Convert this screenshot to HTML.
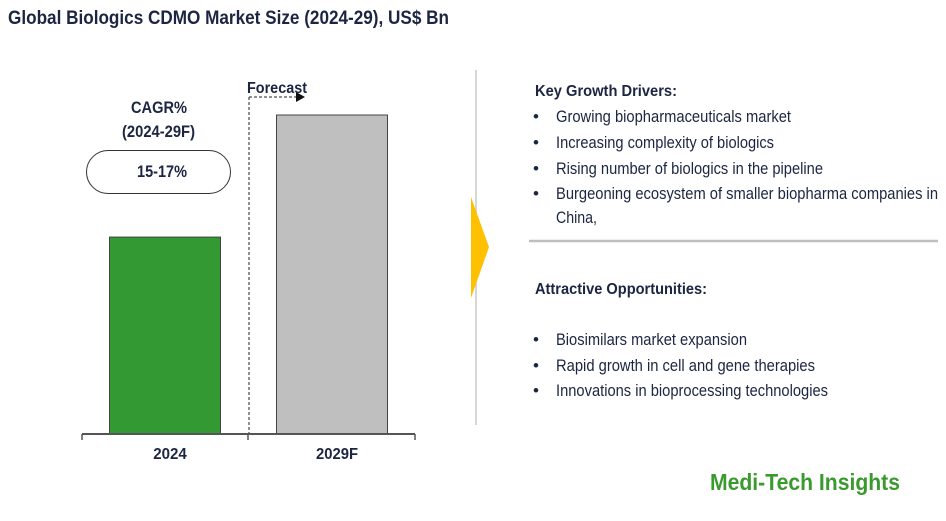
<!DOCTYPE html>
<html><head><meta charset="utf-8"><style>
body{margin:0;background:#fff}
svg{display:block}
text{font-family:"Liberation Sans Narrow","Liberation Sans",sans-serif;fill:#1c2541}
.b{font-weight:bold}
</style></head><body>
<svg id="chart" width="946" height="521" viewBox="0 0 946 521">
<text class="b" x="8" y="24" font-size="19" textLength="441" lengthAdjust="spacingAndGlyphs">Global Biologics CDMO Market Size (2024-29), US$ Bn</text>
<g id="bars"></g>
<line x1="82" y1="434" x2="415" y2="434" stroke="#555" stroke-width="2"/>
<line x1="82" y1="434" x2="82" y2="440" stroke="#555" stroke-width="1.5"/>
<line x1="248" y1="434" x2="248" y2="440" stroke="#555" stroke-width="1.5"/>
<line x1="415" y1="434" x2="415" y2="440" stroke="#555" stroke-width="1.5"/>
<line x1="249" y1="97" x2="249" y2="433" stroke="#222" stroke-width="1" stroke-dasharray="3,2"/>
<line x1="249" y1="97" x2="296" y2="97" stroke="#222" stroke-width="1" stroke-dasharray="3,2"/>
<polygon points="296,92 305,97 296,102" fill="#111"/>
<text class="b" x="247" y="93" font-size="16" textLength="60" lengthAdjust="spacingAndGlyphs">Forecast</text>
<text class="b" x="131" y="113" font-size="17" textLength="56" lengthAdjust="spacingAndGlyphs">CAGR%</text>
<text class="b" x="122" y="137" font-size="17" textLength="73" lengthAdjust="spacingAndGlyphs">(2024-29F)</text>
<rect x="86.5" y="150.5" width="144" height="43" rx="21.5" fill="#fff" stroke="#333" stroke-width="1"/>
<text class="b" x="137" y="177" font-size="17" textLength="50" lengthAdjust="spacingAndGlyphs">15-17%</text>
<line x1="476" y1="70" x2="476" y2="425" stroke="#c8c8c8" stroke-width="1.5"/>
<polygon points="471,197 489,247 471,298" fill="#ffc000"/>
<text class="b" x="535" y="96" font-size="16" textLength="142" lengthAdjust="spacingAndGlyphs">Key Growth Drivers:</text>
<g font-size="17">
<text x="533" y="122">•</text><text x="556" y="122" textLength="235" lengthAdjust="spacingAndGlyphs">Growing biopharmaceuticals market</text>
<text x="533" y="148">•</text><text x="556" y="148" textLength="218" lengthAdjust="spacingAndGlyphs">Increasing complexity of biologics</text>
<text x="533" y="174">•</text><text x="556" y="174" textLength="267" lengthAdjust="spacingAndGlyphs">Rising number of biologics in the pipeline</text>
<text x="533" y="199">•</text><text x="556" y="199" textLength="382" lengthAdjust="spacingAndGlyphs">Burgeoning ecosystem of smaller biopharma companies in</text>
<text x="556" y="223" textLength="41" lengthAdjust="spacingAndGlyphs">China,</text>
</g>
<line x1="529" y1="241" x2="938" y2="241" stroke="#bfbfbf" stroke-width="2.5"/>
<text class="b" x="535" y="294" font-size="16" textLength="172" lengthAdjust="spacingAndGlyphs">Attractive Opportunities:</text>
<g font-size="17">
<text x="533" y="345">•</text><text x="556" y="345" textLength="191" lengthAdjust="spacingAndGlyphs">Biosimilars market expansion</text>
<text x="533" y="371">•</text><text x="556" y="371" textLength="259" lengthAdjust="spacingAndGlyphs">Rapid growth in cell and gene therapies</text>
<text x="533" y="396">•</text><text x="556" y="396" textLength="272" lengthAdjust="spacingAndGlyphs">Innovations in bioprocessing technologies</text>
</g>
<text class="b" x="710" y="490" font-size="23" textLength="190" lengthAdjust="spacingAndGlyphs" style="fill:#3a9a2e;font-family:'Liberation Sans',sans-serif">Medi-Tech Insights</text>
</svg>
<script>
const categories = ["2024", "2029F"];
const values = [50, 81];
const colors = ["#339933", "#bfbfbf"];
const NS = "http://www.w3.org/2000/svg";
const baseY = 434, maxV = 81, topPx = 115;
function yScale(v){ return baseY - (v / maxV) * (baseY - topPx); }
function xCenter(i){ return 165 + i * 167; }
const g = document.getElementById("bars");
categories.forEach((c, i) => {
  const r = document.createElementNS(NS, "rect");
  const y = yScale(values[i]);
  r.setAttribute("x", xCenter(i) - 55.5);
  r.setAttribute("y", y);
  r.setAttribute("width", 111);
  r.setAttribute("height", baseY - y);
  r.setAttribute("fill", colors[i]);
  r.setAttribute("stroke", "#444");
  r.setAttribute("stroke-width", "1");
  
  
  g.appendChild(r);
  const t = document.createElementNS(NS, "text");
  t.setAttribute("x", xCenter(i) + 5);
  t.setAttribute("y", 459);
  t.setAttribute("text-anchor", "middle");
  t.setAttribute("font-size", "16");
  t.setAttribute("textLength", c.length * 8.4);
  t.setAttribute("lengthAdjust", "spacingAndGlyphs");
  t.setAttribute("class", "b");
  t.textContent = c;
  
  
  g.appendChild(t);
});
</script>
</body></html>
